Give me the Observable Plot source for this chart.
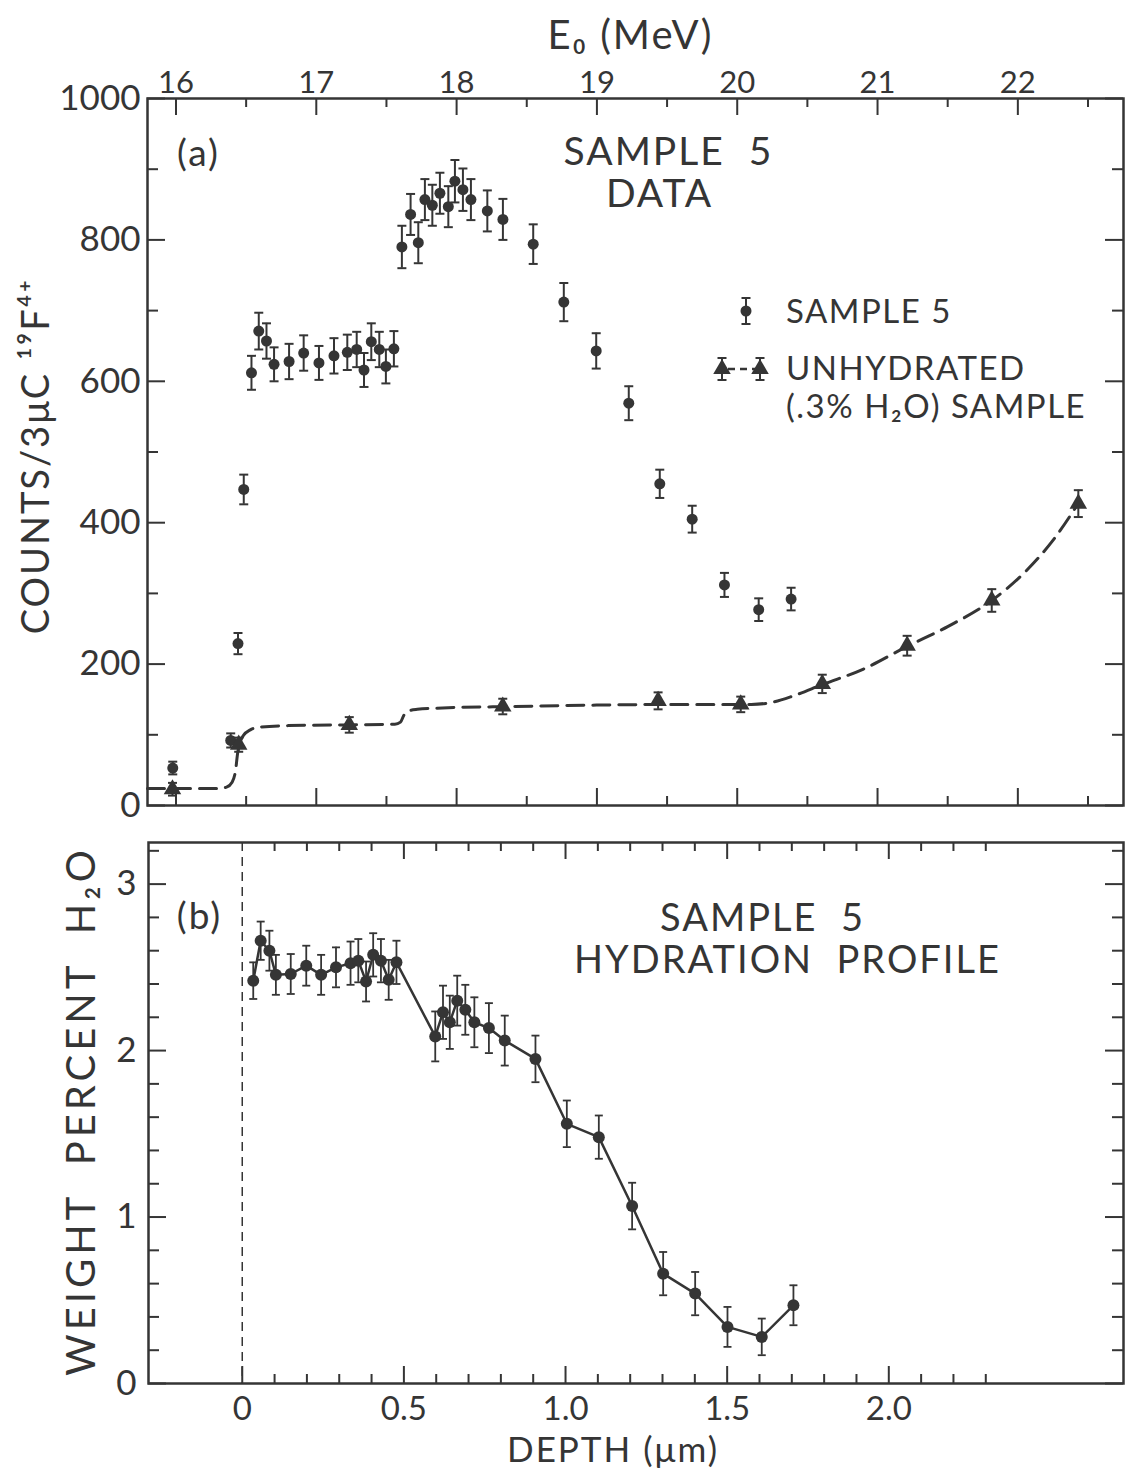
<!DOCTYPE html>
<html><head><meta charset="utf-8">
<script src="https://cdn.jsdelivr.net/npm/d3@7"></script>
<script src="https://cdn.jsdelivr.net/npm/@observablehq/plot@0.6"></script>
<style>
body{margin:0;background:#fff;}
#wrap{position:relative;width:1125px;height:1469px;background:#fff;}
#wrap svg{display:block;}
#legend{position:absolute;left:0;top:0;pointer-events:none;}
</style></head><body><div id="wrap"></div>
<script>
// ---------- Panel (a): yield vs beam energy ----------
const sampleE = [15.977,16.39,16.442,16.483,16.538,16.59,16.645,16.699,16.806,16.91,17.019,17.126,17.221,17.288,17.34,17.392,17.449,17.496,17.553,17.61,17.672,17.727,17.774,17.827,17.881,17.941,17.988,18.045,18.102,18.219,18.33,18.546,18.764,18.995,19.227,19.448,19.679,19.909,20.153,20.384];
const sampleCounts = [53,92,229,447,612,671,657,624,628,640,626,636,641,645,616,656,645,621,646,790,836,796,857,849,866,847,883,871,857,841,829,794,712,643,569,455,405,312,277,292];
const sampleErr = [9,10,15,21,24,26,25,24,25,25,24,25,25,25,24,26,25,24,25,30,29,29,29,29,29,29,30,30,29,29,29,28,27,25,24,20,19,17,16,16];

const unhydE = [15.975,16.447,17.235,18.329,19.436,20.025,20.606,21.211,21.814,22.431];
const unhydCounts = [23,86,114,140,148,143,172,226,290,427];
const unhydErr = [9,10,11,11,12,11,13,14,16,19];

const curveE = [15.797,16.30,16.36,16.40,16.425,16.44,16.455,16.48,16.53,16.60,16.80,17.20,17.56,17.60,17.625,17.66,17.72,17.90,18.40,19.00,19.60,20.10,20.25,20.40,20.606,20.90,21.211,21.50,21.814,22.05,22.25,22.44];
const curveCounts = [24,24,26,33,50,75,88,99,107,111,113,114,115,118,128,134,136,138,140,142,143,143,146,155,171,193,225,253,290,330,375,430];

const eMajorTicks = [16,17,18,19,20,21,22];
const eMinorTicks = [16.5,17.5,18.5,19.5,20.5,21.5,22.5];
const countMajorTicks = [0,200,400,600,800,1000];
const countMinorTicks = [100,300,500,700,900];

// ---------- Panel (b): hydration profile ----------
const depth = [0.034,0.057,0.084,0.104,0.150,0.198,0.244,0.290,0.335,0.359,0.383,0.405,0.429,0.453,0.477,0.597,0.621,0.642,0.665,0.690,0.718,0.763,0.812,0.907,1.004,1.103,1.206,1.302,1.401,1.501,1.607,1.705];
const water = [2.42,2.66,2.60,2.455,2.46,2.51,2.455,2.50,2.525,2.54,2.415,2.575,2.54,2.425,2.53,2.085,2.23,2.17,2.30,2.245,2.17,2.135,2.06,1.95,1.56,1.48,1.066,0.66,0.54,0.34,0.28,0.47];
const waterErr = [0.11,0.115,0.12,0.12,0.12,0.12,0.12,0.12,0.13,0.13,0.12,0.13,0.13,0.12,0.13,0.15,0.16,0.16,0.15,0.15,0.15,0.15,0.15,0.14,0.14,0.13,0.14,0.13,0.13,0.12,0.11,0.12];

const depthMajorTicks = [0,0.5,1.0,1.5,2.0];
const depthTickLabels = ["0","0.5","1.0","1.5","2.0"];
const depthMinorTicks = [0.1,0.2,0.3,0.4,0.6,0.7,0.8,0.9,1.1,1.2,1.3,1.4,1.6,1.7,1.8,1.9,2.1,2.2,2.3];
const waterMajorTicks = [0,1,2,3];
const waterMinorTicks = [0.2,0.4,0.6,0.8,1.2,1.4,1.6,1.8,2.2,2.4,2.6,2.8,3.2];

// ---------- helpers ----------
const INK = "#353535";
const FONT = "Lato, 'Open Sans', 'Liberation Sans', sans-serif";
const capSymbol = {draw(ctx, size){const r = Math.sqrt(size/Math.PI); ctx.moveTo(-r,0); ctx.lineTo(r,0);}};

function tickMarks(xs, ys, innerW, innerH, xMaj, xMin, yMaj, yMin) {
  const s = {stroke: INK, strokeWidth: 2};
  return [
    Plot.tickX(xs.maj, {x: d => d, insetTop: innerH - xMaj, ...s}),
    Plot.tickX(xs.min, {x: d => d, insetTop: innerH - xMin, ...s}),
    Plot.tickX(xs.majTop, {x: d => d, insetBottom: innerH - xMaj, ...s}),
    Plot.tickX(xs.minTop, {x: d => d, insetBottom: innerH - xMin, ...s}),
    Plot.tickY(ys.maj, {y: d => d, insetRight: innerW - yMaj, ...s}),
    Plot.tickY(ys.min, {y: d => d, insetRight: innerW - yMin, ...s}),
    Plot.tickY(ys.maj, {y: d => d, insetLeft: innerW - yMaj, ...s}),
    Plot.tickY(ys.min, {y: d => d, insetLeft: innerW - yMin, ...s})
  ];
}
const T = (s, o) => Plot.text([s], {textAnchor: "middle", lineAnchor: "middle", fill: INK, ...o});

const wrap = document.getElementById("wrap");

// ---------- top plot ----------
const samples = sampleE.map((e, i) => ({e, c: sampleCounts[i], err: sampleErr[i]}));
const unhyd = unhydE.map((e, i) => ({e, c: unhydCounts[i], err: unhydErr[i]}));
const curve = curveE.map((e, i) => ({e, c: curveCounts[i]}));

const topW = 1125, topH = 830, tML = 147, tMR = 2, tMT = 98, tMB = 25;
const tInnerW = topW - tML - tMR, tInnerH = topH - tMT - tMB;

const topPlot = Plot.plot({
  width: topW, height: topH,
  marginTop: tMT, marginBottom: tMB, marginLeft: tML, marginRight: tMR,
  x: {domain: [15.797, 22.753]},
  y: {domain: [0, 1000]},
  style: {fontFamily: FONT, color: INK, background: "white", overflow: "visible"},
  marks: [
    Plot.frame({stroke: INK, strokeWidth: 2.5}),
    ...tickMarks({maj: eMajorTicks, min: eMinorTicks, majTop: eMajorTicks, minTop: eMinorTicks},
                 {maj: countMajorTicks, min: countMinorTicks}, tInnerW, tInnerH, 17, 9, 18, 11),
    Plot.axisX({anchor: "top", ticks: eMajorTicks, tickSize: 0, tickPadding: 6, fontSize: 31, label: null, tickFormat: d => String(d)}),
    Plot.axisY({anchor: "left", ticks: countMajorTicks, tickSize: 0, tickPadding: 7, fontSize: 35, label: null, tickFormat: d => String(d)}),
    Plot.line(curve, {x: "e", y: "c", stroke: INK, strokeWidth: 3, strokeDasharray: "17,9", curve: "monotone-x"}),
    Plot.ruleX(samples, {x: "e", y1: d => d.c - d.err, y2: d => d.c + d.err, stroke: INK, strokeWidth: 2}),
    Plot.dot(samples, {x: "e", y: d => d.c + d.err, symbol: capSymbol, r: 4.5, stroke: INK, strokeWidth: 2, fill: "none"}),
    Plot.dot(samples, {x: "e", y: d => d.c - d.err, symbol: capSymbol, r: 4.5, stroke: INK, strokeWidth: 2, fill: "none"}),
    Plot.dot(samples, {x: "e", y: "c", r: 5.5, fill: INK, stroke: "none"}),
    Plot.ruleX(unhyd, {x: "e", y1: d => d.c - d.err, y2: d => d.c + d.err, stroke: INK, strokeWidth: 2}),
    Plot.dot(unhyd, {x: "e", y: d => d.c + d.err, symbol: capSymbol, r: 4.5, stroke: INK, strokeWidth: 2, fill: "none"}),
    Plot.dot(unhyd, {x: "e", y: d => d.c - d.err, symbol: capSymbol, r: 4.5, stroke: INK, strokeWidth: 2, fill: "none"}),
    Plot.dot(unhyd, {x: "e", y: "c", symbol: "triangle", r: 6.5, fill: INK, stroke: "none"}),
    T("E\u2080 (MeV)", {frameAnchor: "top", dx: -5, dy: -62, fontSize: 40}),
    T("COUNTS/3\u03bcC \u00b9\u2079F\u2074\u207a", {frameAnchor: "left", dx: -111, dy: 4, rotate: -90, fontSize: 38}),
    T("(a)", {frameAnchor: "top-left", dx: 51, dy: 56, fontSize: 37}),
    T("SAMPLE  5", {frameAnchor: "top-left", dx: 521, dy: 54, fontSize: 39}),
    T("DATA", {frameAnchor: "top-left", dx: 512, dy: 96, fontSize: 39})
  ]
});
wrap.appendChild(topPlot);

// ---------- bottom plot ----------
const prof = depth.map((d, i) => ({d, w: water[i], err: waterErr[i]}));
const botW = 1125, botH = 639, bML = 148, bMR = 2, bMT = 12, bMB = 86;
const bInnerW = botW - bML - bMR, bInnerH = botH - bMT - bMB;

const botPlot = Plot.plot({
  width: botW, height: botH,
  marginTop: bMT, marginBottom: bMB, marginLeft: bML, marginRight: bMR,
  x: {domain: [-0.29, 2.726]},
  y: {domain: [0, 3.25]},
  style: {fontFamily: FONT, color: INK, background: "white", overflow: "visible"},
  marks: [
    Plot.frame({stroke: INK, strokeWidth: 2.5}),
    ...tickMarks({maj: depthMajorTicks, min: depthMinorTicks, majTop: depthMajorTicks.slice(1), minTop: depthMinorTicks},
                 {maj: waterMajorTicks, min: waterMinorTicks}, bInnerW, bInnerH, 17, 9, 18, 11),
    Plot.ruleX([0], {stroke: INK, strokeWidth: 1.5, strokeDasharray: "9,6"}),
    Plot.axisX({anchor: "bottom", ticks: depthMajorTicks, tickSize: 0, tickPadding: 13, fontSize: 33, label: null,
                tickFormat: d => depthTickLabels[depthMajorTicks.indexOf(d)]}),
    Plot.axisY({anchor: "left", ticks: waterMajorTicks, tickSize: 0, tickPadding: 12, fontSize: 35, label: null, tickFormat: d => String(d)}),
    Plot.line(prof, {x: "d", y: "w", stroke: INK, strokeWidth: 2.5}),
    Plot.ruleX(prof, {x: "d", y1: d => d.w - d.err, y2: d => d.w + d.err, stroke: INK, strokeWidth: 1.8}),
    Plot.dot(prof, {x: "d", y: d => d.w + d.err, symbol: capSymbol, r: 4, stroke: INK, strokeWidth: 1.8, fill: "none"}),
    Plot.dot(prof, {x: "d", y: d => d.w - d.err, symbol: capSymbol, r: 4, stroke: INK, strokeWidth: 1.8, fill: "none"}),
    Plot.dot(prof, {x: "d", y: "w", r: 6, fill: INK, stroke: "none"}),
    T("DEPTH (\u03bcm)", {frameAnchor: "bottom", dx: -23, dy: 67, fontSize: 35}),
    T("WEIGHT  PERCENT  H\u2082O", {frameAnchor: "left", dx: -66, dy: -2, rotate: -90, fontSize: 40}),
    T("(b)", {frameAnchor: "top-left", dx: 51, dy: 75, fontSize: 37}),
    T("SAMPLE  5", {frameAnchor: "top-left", dx: 614, dy: 76, fontSize: 38}),
    T("HYDRATION  PROFILE", {frameAnchor: "top-left", dx: 639, dy: 118, fontSize: 38})
  ]
});
wrap.appendChild(botPlot);

// letter spacing for annotation text
[topPlot, botPlot].forEach(svg => {
  d3.select(svg).selectAll("g[aria-label='text'] text").attr("letter-spacing", 2);
});
d3.select(botPlot).selectAll("g[aria-label='text'] text").filter(function() { return this.textContent.startsWith("WEIGHT"); }).attr("letter-spacing", 4);

// ---------- legend (overlay) ----------
const legendLabels = ["SAMPLE  5", "UNHYDRATED", "(.3% H\u2082O)  SAMPLE"];
const lg = d3.select(wrap).append("svg").attr("id", "legend").attr("width", 1125).attr("height", 830)
  .style("font-family", FONT).style("fill", INK);
function errGlyph(g, x, y, half, cap) {
  g.append("line").attr("x1", x).attr("x2", x).attr("y1", y - half).attr("y2", y + half).attr("stroke", INK).attr("stroke-width", 2);
  g.append("line").attr("x1", x - cap).attr("x2", x + cap).attr("y1", y - half).attr("y2", y - half).attr("stroke", INK).attr("stroke-width", 2);
  g.append("line").attr("x1", x - cap).attr("x2", x + cap).attr("y1", y + half).attr("y2", y + half).attr("stroke", INK).attr("stroke-width", 2);
}
errGlyph(lg, 746, 311, 13, 4.5);
lg.append("circle").attr("cx", 746).attr("cy", 311).attr("r", 5.5).attr("fill", INK);
lg.append("line").attr("x1", 728).attr("x2", 755).attr("y1", 369).attr("y2", 369).attr("stroke", INK).attr("stroke-width", 2.5).attr("stroke-dasharray", "7,5");
[722, 760].forEach(x => {
  errGlyph(lg, x, 369, 11, 4.5);
  lg.append("path").attr("d", d3.symbol(d3.symbolTriangle, Math.PI * 6.5 * 6.5)()).attr("transform", `translate(${x},369)`).attr("fill", INK);
});
const lt = [[311, 0], [368, 1], [406, 2]];
lt.forEach(([y, i]) => {
  lg.append("text").attr("x", 786).attr("y", y).attr("dy", "0.36em").attr("font-size", 33).attr("letter-spacing", 1.5).text(legendLabels[i]);
});
</script>
</body></html>
